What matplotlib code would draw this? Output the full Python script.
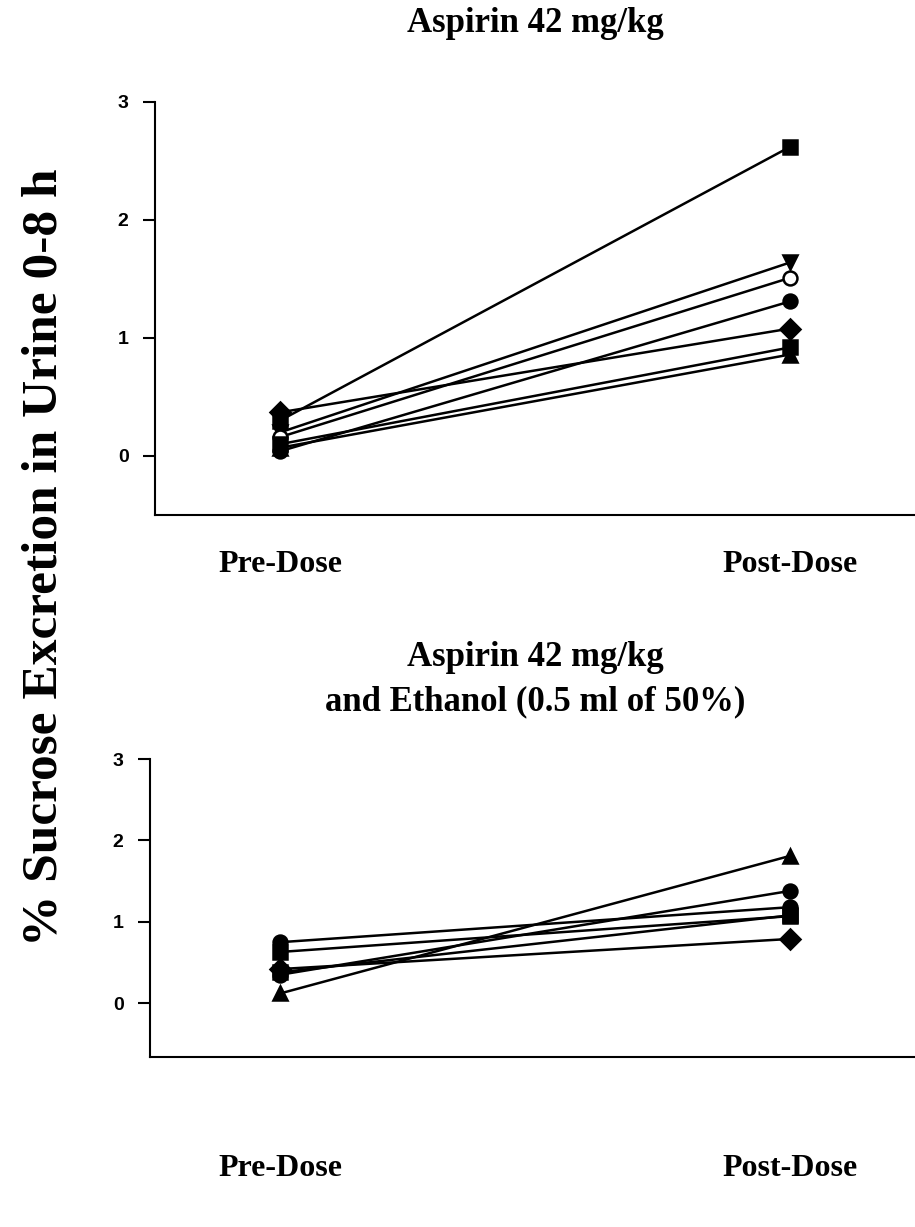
import matplotlib
matplotlib.use("Agg")
import matplotlib.pyplot as plt

# x positions / labels
phases = ["Pre-Dose", "Post-Dose"]

# Aspirin 42 mg/kg (one list per animal: pre, post)
asp_square = [0.30, 2.62]
asp_invtri = [0.20, 1.64]
asp_opencirc = [0.16, 1.51]
asp_diamond = [0.37, 1.08]
asp_hexagon = [0.10, 0.92]
asp_triangle = [0.07, 0.86]
asp_circle = [0.04, 1.31]

# Aspirin 42 mg/kg + ethanol
eth_circle_a = [0.75, 1.18]
eth_square_a = [0.63, 1.07]
eth_circle_b = [0.35, 1.38]
eth_square_b = [0.38, 1.08]
eth_diamond = [0.42, 0.79]
eth_triangle = [0.12, 1.81]

yticks = [0, 1, 2, 3]

serif = ["Liberation Serif", "DejaVu Serif"]
sans = ["Liberation Sans", "DejaVu Sans"]


def draw_series(ax, series):
    x = [0, 1]
    for vals, marker, filled in series:
        ax.plot(x, vals, color="black", lw=1.8, marker=marker, ms=10,
                mfc="black" if filled else "white", mec="black", mew=1.8,
                zorder=3)


def style_axes(ax, xmin, ymin, label_pad):
    ax.set_xlim(xmin, 1.245)
    ax.set_ylim(ymin, 3)
    for side in ["top", "right"]:
        ax.spines[side].set_visible(False)
    ax.spines["left"].set_linewidth(1.5)
    ax.spines["bottom"].set_linewidth(1.5)
    ax.set_yticks(yticks)
    ax.set_yticklabels([str(t) for t in yticks], fontfamily=sans,
                       fontweight="bold", fontsize=14)
    ax.tick_params(axis="y", direction="out", length=9, width=1.5, pad=10)
    ax.set_xticks([0, 1])
    ax.set_xticklabels(phases, fontfamily=serif, fontweight="bold",
                       fontsize=23)
    ax.tick_params(axis="x", length=0, pad=label_pad)


fig = plt.figure(figsize=(9.15, 12.27), dpi=100)

# top panel: aspirin alone
ax1 = fig.add_axes([155 / 915, 1 - 515 / 1227, 760 / 915, 413 / 1227])
draw_series(ax1, [
    (asp_square, "s", True),
    (asp_invtri, "v", True),
    (asp_opencirc, "o", False),
    (asp_diamond, "D", True),
    (asp_hexagon, "s", True),
    (asp_triangle, "^", True),
    (asp_circle, "o", True),
])
style_axes(ax1, -0.245, -0.5, 25)
fig.text(0.585, 1 - 23 / 1227, "Aspirin 42 mg/kg", ha="center", va="center",
         fontfamily=serif, fontweight="bold", fontsize=25)

# bottom panel: aspirin + ethanol
ax2 = fig.add_axes([150 / 915, 1 - 1057 / 1227, 765 / 915, 298 / 1227])
draw_series(ax2, [
    (eth_circle_a, "o", True),
    (eth_square_a, "s", True),
    (eth_circle_b, "o", True),
    (eth_square_b, "s", True),
    (eth_diamond, "D", True),
    (eth_triangle, "^", True),
])
style_axes(ax2, -0.255, -0.66, 70)
fig.text(0.585, 1 - 680 / 1227, "Aspirin 42 mg/kg\nand Ethanol (0.5 ml of 50%)",
         ha="center", va="center", fontfamily=serif, fontweight="bold",
         fontsize=25, linespacing=1.45)

fig.text(0.049, 1 - 557 / 1227, "% Sucrose Excretion in Urine 0-8 h",
         rotation=90, ha="center", va="center", fontfamily=serif,
         fontweight="bold", fontsize=37)

fig.savefig("out.png", dpi=100)
